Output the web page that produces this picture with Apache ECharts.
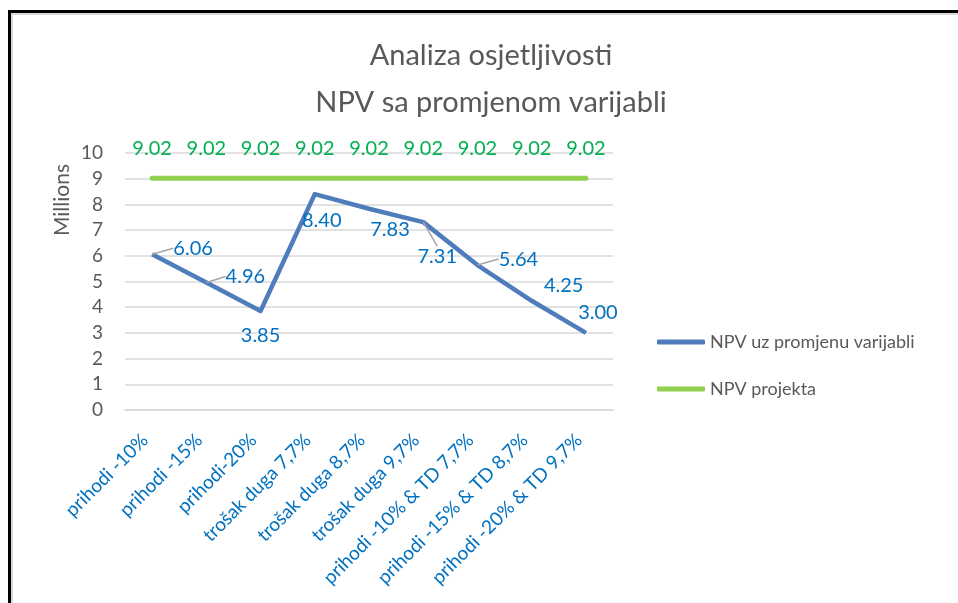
<!DOCTYPE html>
<html>
<head>
<meta charset="utf-8">
<script src="https://cdn.jsdelivr.net/npm/echarts@6/dist/echarts.min.js"></script>
<style>
html,body{margin:0;padding:0;background:#fff;}
#frame{position:absolute;left:8px;top:10px;width:950px;height:593px;border-top:3px solid #000;border-left:3px solid #000;box-shadow:inset 2px 2px 0 #d9d9d9;box-sizing:border-box;}
#chart{position:absolute;left:0;top:0;width:958px;height:603px;}
</style>
</head>
<body>
<div id="frame"></div>
<div id="chart"></div>
<script>
const categories = ["prihodi -10%", "prihodi -15%", "prihodi-20%", "trošak duga 7,7%", "trošak duga 8,7%", "trošak duga 9,7%", "prihodi -10% & TD 7,7%", "prihodi -15% & TD 8,7%", "prihodi -20% & TD 9,7%"];
const npvVarijable = [6.06, 4.96, 3.85, 8.40, 7.83, 7.31, 5.64, 4.25, 3.00];
const npvProjekta = [9.02, 9.02, 9.02, 9.02, 9.02, 9.02, 9.02, 9.02, 9.02];
const yTicks = [0, 1, 2, 3, 4, 5, 6, 7, 8, 9, 10];

// label placement (style only)
const blueLabelShift = [[41,-6],[39,-6],[0,24],[7,26],[21,21],[14,34],[41,-6],[32,-15],[12,-20]];
const blueLeader = [true,true,false,false,false,true,true,false,false];

const FONT = 'Lato';
const chart = echarts.init(document.getElementById('chart'));
chart.setOption({
  animation: false,
  title: {
    text: 'Analiza osjetljivosti\nNPV sa promjenom varijabli',
    left: 486, top: 27, textAlign: 'center',
    textStyle: {fontFamily: FONT, fontSize: 29, fontWeight: 'normal', color: '#595959', lineHeight: 47}
  },
  graphic: [{
    type: 'text', x: 62, y: 200, rotation: Math.PI / 2,
    style: {text: 'Millions', fontFamily: FONT, fontSize: 21, fill: '#595959', align: 'center', verticalAlign: 'middle'}
  }],
  grid: {left: 125, right: 345, top: 153, bottom: 193, containLabel: false},
  legend: {
    orient: 'vertical', left: 657, top: 332, padding: 0,
    itemWidth: 48, itemHeight: 5, itemGap: 27, icon: 'roundRect',
    textStyle: {fontFamily: FONT, fontSize: 18, color: '#595959', lineHeight: 20},
    data: ['NPV uz promjenu varijabli', 'NPV projekta']
  },
  xAxis: {
    type: 'category', data: categories,
    axisLine: {show: true, lineStyle: {color: '#D9D9D9', width: 1.5}},
    axisTick: {show: false},
    axisLabel: {rotate: 45, interval: 0, margin: 20, padding: [0, 10, 0, 0], fontFamily: FONT, fontSize: 19, color: '#0070C0'}
  },
  yAxis: {
    type: 'value', min: yTicks[0], max: yTicks[yTicks.length-1], interval: 1,
    axisLine: {show: false}, axisTick: {show: false},
    axisLabel: {margin: 22, fontFamily: FONT, fontSize: 19, color: '#595959'},
    splitLine: {lineStyle: {color: '#D9D9D9', width: 1.5}}
  },
  series: [
    {
      name: 'NPV uz promjenu varijabli', type: 'line',
      data: npvVarijable.map((v, i) => ({value: v, labelLine: {show: blueLeader[i]}})),
      symbol: 'circle', symbolSize: 0.1,
      lineStyle: {color: '#4F7DBB', width: 4.5, join: 'round'},
      itemStyle: {color: '#4F7DBB'},
      label: {show: true, position: 'inside', fontFamily: FONT, fontSize: 20, color: '#0070C0',
        formatter: p => p.value.toFixed(2)},
      labelLine: {show: false, lineStyle: {color: '#A6A6A6', width: 1.5}},
      labelLayout: function (p) {
        const s = blueLabelShift[p.dataIndex];
        return {dx: s[0], dy: s[1]};
      },
      z: 3
    },
    {
      name: 'NPV projekta', type: 'line', data: npvProjekta,
      symbol: 'circle', symbolSize: 0.1,
      lineStyle: {color: '#92D050', width: 5, cap: 'round'},
      itemStyle: {color: '#92D050'},
      label: {show: true, position: 'top', distance: 20, fontFamily: FONT, fontSize: 20, color: '#00B050',
        formatter: p => p.value.toFixed(2)},
      z: 2
    }
  ]
});
</script>
</body>
</html>
